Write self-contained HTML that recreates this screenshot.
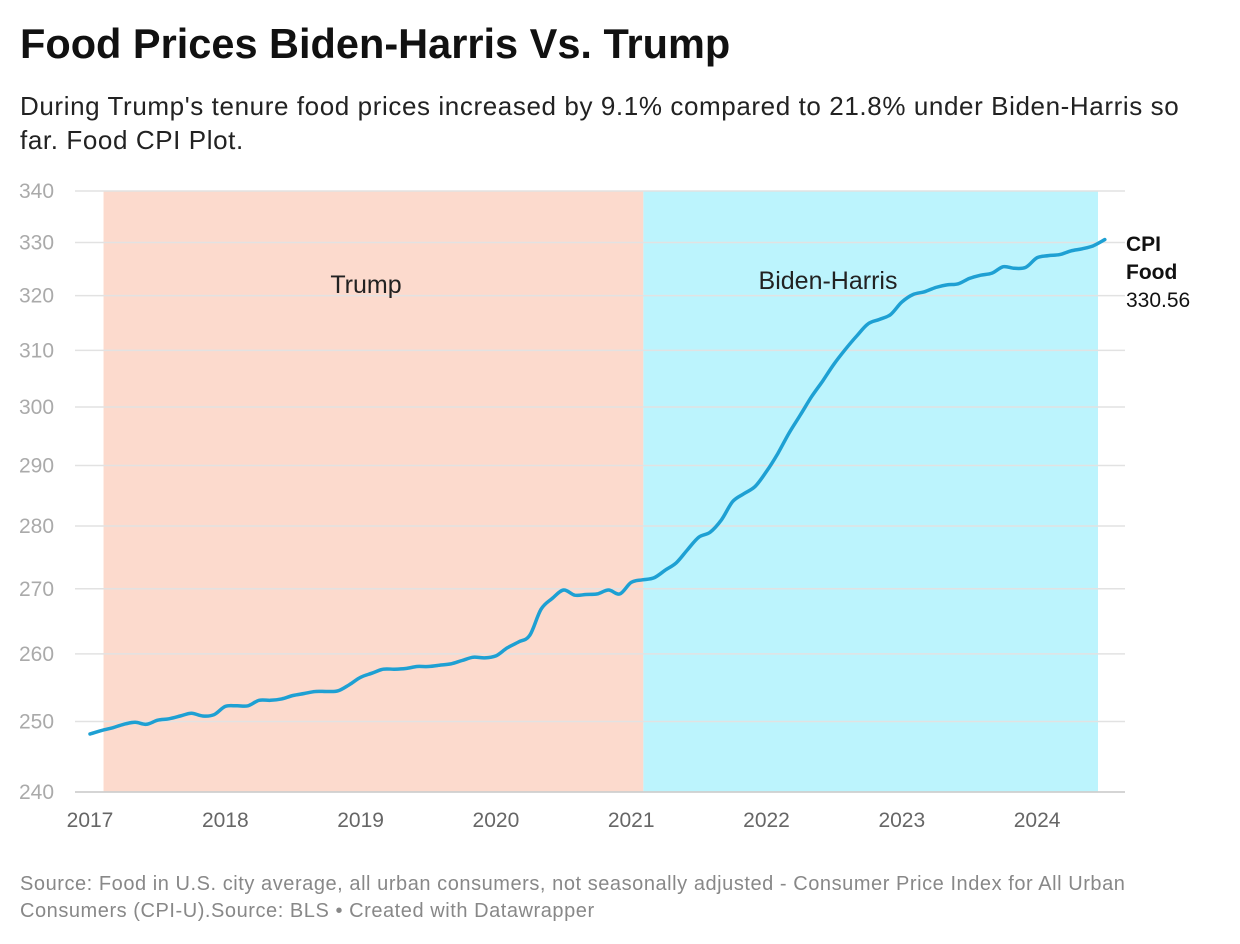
<!DOCTYPE html>
<html><head><meta charset="utf-8"><style>
body{margin:0;background:#fff;width:1240px;height:944px;overflow:hidden;font-family:"Liberation Sans",Arial,sans-serif;}
#title{position:absolute;left:20px;top:20px;font-size:41.5px;font-weight:bold;color:#111;margin:0;letter-spacing:0px}
#sub{position:absolute;left:20px;top:89px;font-size:26px;line-height:34px;color:#222;width:1220px;letter-spacing:0.6px;white-space:nowrap}
#foot{position:absolute;left:20px;top:871px;font-size:20px;line-height:27px;color:#888;width:1220px;letter-spacing:0.55px;white-space:nowrap}
svg{position:absolute;left:0;top:0}
</style></head><body>
<h1 id="title">Food Prices Biden-Harris Vs. Trump</h1>
<div id="sub">During Trump's tenure food prices increased by 9.1% compared to 21.8% under Biden-Harris so<br>far. Food CPI Plot.</div>
<div id="foot">Source: Food in U.S. city average, all urban consumers, not seasonally adjusted - Consumer Price Index for All Urban<br>Consumers (CPI-U).Source: BLS • Created with Datawrapper</div>
<svg id="chart" width="1240" height="944"></svg>
<script>
const yTicks=[240,250,260,270,280,290,300,310,320,330,340];
const xTicks=[2017,2018,2019,2020,2021,2022,2023,2024];
const startYear=2017;
const cpiFood=[
248.2,248.7,249.1,249.6,249.9,249.6,250.2,250.4,250.8,251.2,250.8,251.0,
252.2,252.3,252.3,253.1,253.1,253.3,253.8,254.1,254.4,254.4,254.5,255.4,
256.5,257.1,257.7,257.7,257.8,258.1,258.1,258.3,258.5,259.0,259.5,259.4,
259.7,260.9,261.8,262.8,266.8,268.5,269.8,269.0,269.1,269.2,269.8,269.2,
271.0,271.4,271.7,272.9,274.1,276.2,278.2,279.0,281.0,284.0,285.3,286.5,
289.0,292.0,295.5,298.6,301.8,304.6,307.6,310.2,312.6,314.8,315.6,316.5,
318.8,320.2,320.7,321.5,322.0,322.2,323.2,323.8,324.2,325.4,325.1,325.3,
327.1,327.5,327.7,328.4,328.8,329.4,330.56];
const periods=[{name:"Trump",start:2017.1,end:2021.09,fill:"#fcdacd"},{name:"Biden-Harris",start:2021.09,end:2024.45,fill:"#bcf4fd"}];
const NS="http://www.w3.org/2000/svg";
const svg=document.getElementById('chart');
const y=v=>191+(Math.log(340)-Math.log(v))/(Math.log(340)-Math.log(240))*601;
const x=t=>90+(t-2017)*135.3;
function mk(tag,attrs,txt){const e=document.createElementNS(NS,tag);for(const k in attrs)e.setAttribute(k,attrs[k]);if(txt!==undefined)e.textContent=txt;svg.appendChild(e);return e;}
periods.forEach((p,i)=>{
 const r=mk('rect',{x:x(p.start),y:y(340),width:x(p.end)-x(p.start),height:y(240)-y(340),fill:p.fill});
 
 
});
yTicks.forEach(v=>{
 const l=mk('line',{x1:75,x2:1125,y1:y(v),y2:y(v),stroke:'#e2e2e2','stroke-width':1.5});
 
 
 const t=mk('text',{x:19,y:y(v)+7,'font-size':21,fill:'#aaa','font-family':'Liberation Sans'},v);
 
 
});
const base=mk('line',{x1:75,x2:1125,y1:y(240),y2:y(240),stroke:'#ccc','stroke-width':1.5});


xTicks.forEach(v=>{
 const t=mk('text',{x:x(v),y:827,'font-size':21,fill:'#666','text-anchor':'middle','font-family':'Liberation Sans'},v);
 
 
});
const l1=mk('text',{x:366,y:293,'font-size':25,fill:'#222','text-anchor':'middle','font-family':'Liberation Sans'},'Trump');


const l2=mk('text',{x:828,y:289,'font-size':25,fill:'#222','text-anchor':'middle','font-family':'Liberation Sans'},'Biden-Harris');


const pts=cpiFood.map((v,i)=>[x(startYear+i/12),y(v)]);
let d='M'+pts[0][0].toFixed(1)+','+pts[0][1].toFixed(1);
for(let i=0;i<pts.length-1;i++){
 const p0=pts[Math.max(0,i-1)],p1=pts[i],p2=pts[i+1],p3=pts[Math.min(pts.length-1,i+2)];
 const c1=[p1[0]+(p2[0]-p0[0])/6,p1[1]+(p2[1]-p0[1])/6],c2=[p2[0]-(p3[0]-p1[0])/6,p2[1]-(p3[1]-p1[1])/6];
 d+='C'+c1[0].toFixed(1)+','+c1[1].toFixed(1)+' '+c2[0].toFixed(1)+','+c2[1].toFixed(1)+' '+p2[0].toFixed(1)+','+p2[1].toFixed(1);
}
const path=mk('path',{d:d,fill:'none',stroke:'#1ea0d3','stroke-width':3.5,'stroke-linejoin':'round','stroke-linecap':'round'});


const last=cpiFood[cpiFood.length-1];
const g1=mk('text',{x:1126,y:251,'font-size':21,'font-weight':'bold',fill:'#111','font-family':'Liberation Sans'},'CPI');


const g2=mk('text',{x:1126,y:279,'font-size':21,'font-weight':'bold',fill:'#111','font-family':'Liberation Sans'},'Food');


const g3=mk('text',{x:1126,y:307,'font-size':21,fill:'#111','font-family':'Liberation Sans'},last.toFixed(2));


</script>
</body></html>
